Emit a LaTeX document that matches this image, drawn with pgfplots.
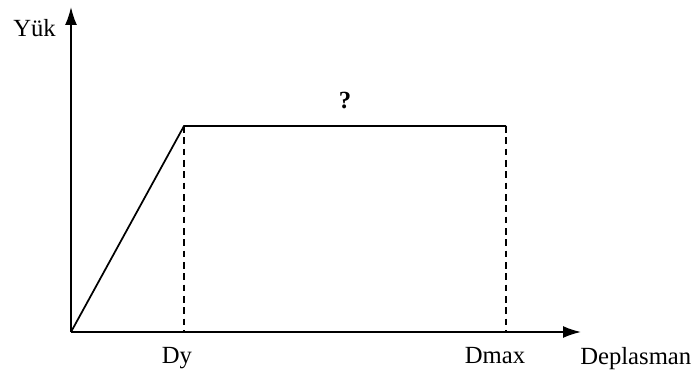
\documentclass[border=0pt]{standalone}
\usepackage{fontspec}
\setmainfont{Liberation Serif}
\usepackage{pgfplots}
\pgfplotsset{compat=1.18}
\usetikzlibrary{arrows.meta}
\begin{document}
\begin{tikzpicture}
\begin{axis}[
  scale only axis,
  width=519.75pt, height=279pt,
  xmin=0, xmax=693, ymin=0, ymax=372,
  hide axis, clip=false,
]
\addplot[draw=none] coordinates {(0,0) (693,372)};
% axes
\addplot[line width=1.3pt, -{Latex[length=13.5pt,width=9pt]}] coordinates {(71,40) (71,365)};
\addplot[line width=1.3pt, -{Latex[length=13.5pt,width=9pt]}] coordinates {(71,40) (581,40)};
% load-displacement curve
\addplot[line width=1.3pt] coordinates {(71,40) (184,246) (506,246)};
% dashed verticals
\addplot[line width=1.3pt, dash pattern=on 5pt off 3.5pt] coordinates {(184,246) (184,40)};
\addplot[line width=1.3pt, dash pattern=on 5pt off 3.5pt] coordinates {(506,246) (506,40)};
% labels
\node[anchor=base west, inner sep=0pt, font=\fontsize{18.5}{20}\selectfont] at (axis cs:13,335) {Yük};
\node[anchor=base, inner sep=0pt, font=\fontsize{18.5}{20}\selectfont] at (axis cs:177,9) {Dy};
\node[anchor=base, inner sep=0pt, font=\fontsize{18.5}{20}\selectfont] at (axis cs:495,9) {Dmax};
\node[anchor=base west, inner sep=0pt, font=\fontsize{18.5}{20}\selectfont] at (axis cs:580,8) {Deplasman};
\node[anchor=base, inner sep=0pt, font=\fontsize{18.5}{20}\selectfont\bfseries] at (axis cs:345,263) {?};
\end{axis}
\end{tikzpicture}
\end{document}
